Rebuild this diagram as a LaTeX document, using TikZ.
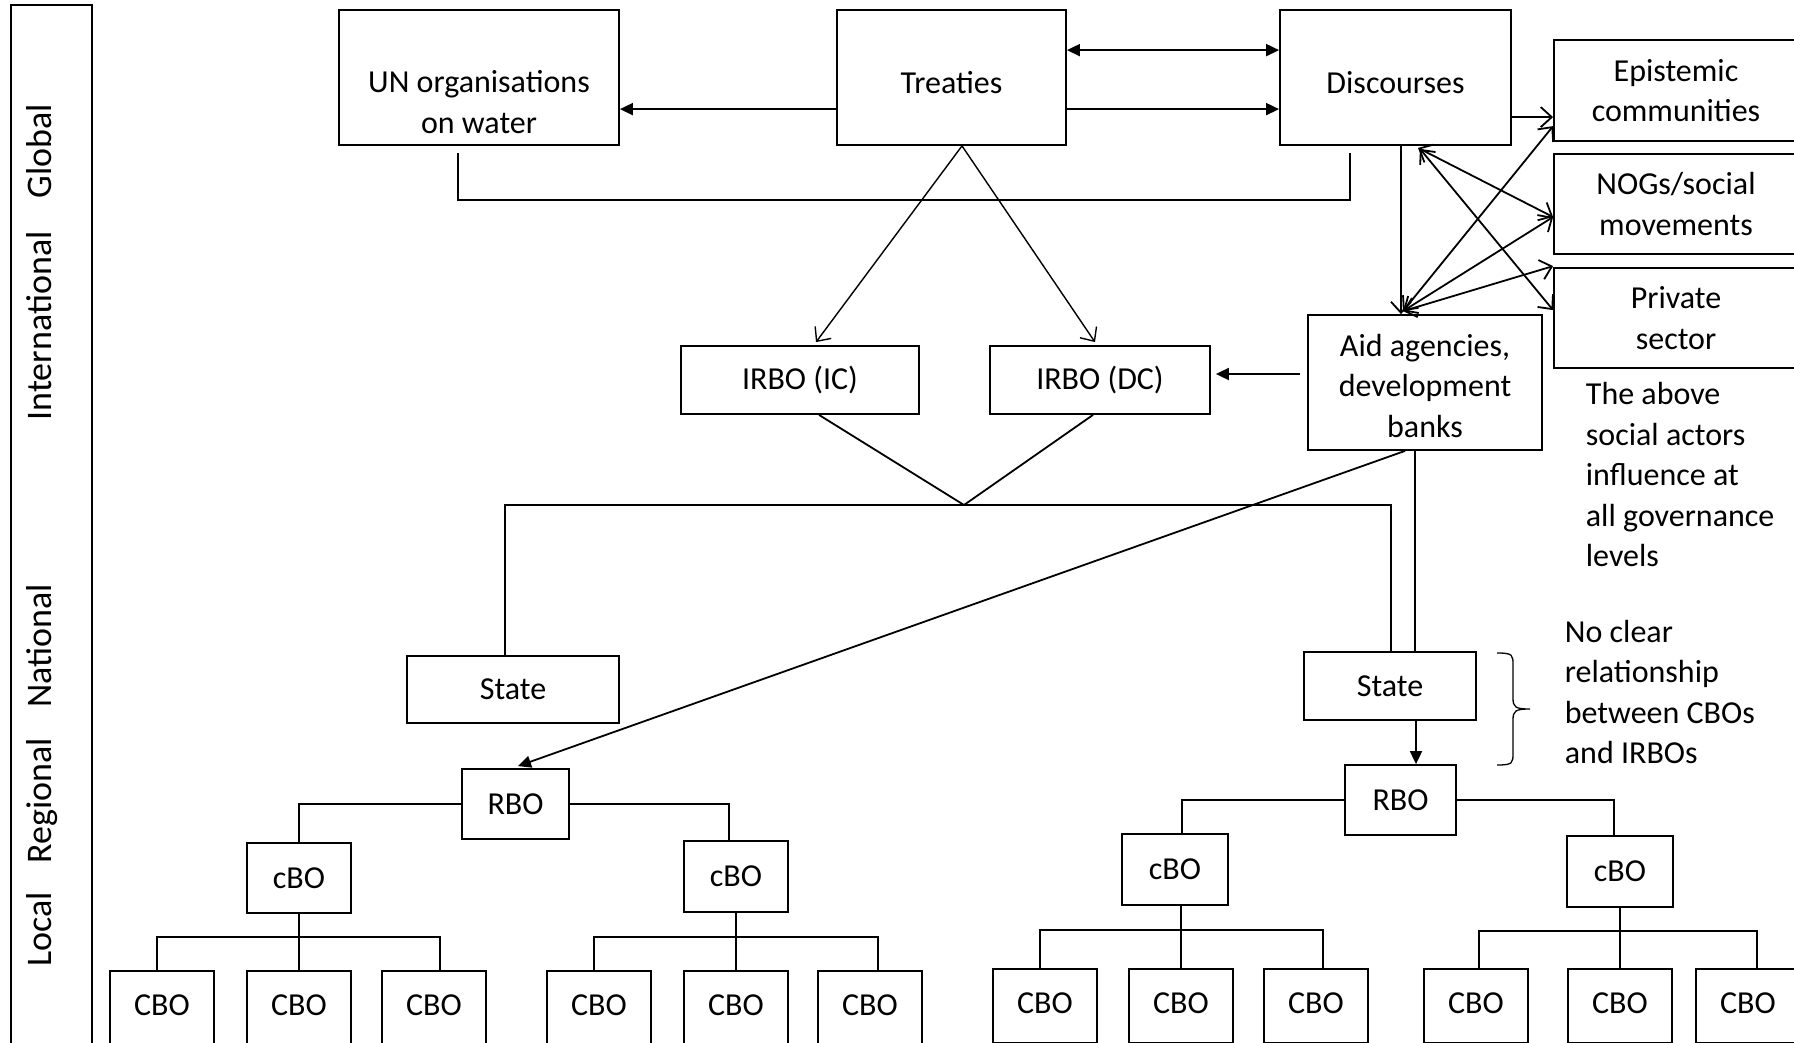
\documentclass[tikz,border=0pt]{standalone}
\usepackage{fontspec}
\setmainfont{Carlito}
\usetikzlibrary{arrows.meta,calc}
\begin{document}
\begin{tikzpicture}[x=1pt,y=-1pt,
  line width=1.8pt,
  every node/.style={font=\fontsize{32}{40.5}\selectfont, align=center},
  bx/.style n args={2}{draw, line width=1.8pt, minimum width=#1pt, minimum height=#2pt, inner sep=0pt, align=center},
  low/.style={text height=31pt, text depth=0pt},
  up/.style={text height=21pt, text depth=6pt},
  fa/.style={-{Triangle[length=13pt,width=12pt]}},
  fab/.style={{Triangle[length=13pt,width=12pt]}-{Triangle[length=13pt,width=12pt]}},
  oa/.style={-{Straight Barb[length=11pt,width=20pt]}},
  oab/.style={{Straight Barb[length=11pt,width=20pt]}-{Straight Barb[length=11pt,width=20pt]}},
  side/.style={rotate=90, anchor=base, font=\fontsize{36}{40}\selectfont, inner sep=0pt},
  note/.style={align=left, anchor=west, inner sep=0pt},
  thin/.style={line width=1.4pt}
]
\useasboundingbox (0,0) rectangle (1794,1042);
\clip (0,0) rectangle (1794,1042);

% side strip
\draw (11,5) rectangle (92,1060);
\node[side] (lglobal) at (51,151.5) {Global};
\node[side] (linter) at (51,326) {International};
\node[side] (lnat) at (51,646) {National};
\node[side] (lreg) at (51,801) {Regional};
\node[side] (lloc) at (51,929.5) {Local};

% top row
\node[bx={280}{135}] (un) at (479,77.5) {};
\node (untext) at (479,102) {UN organisations\\on water};
\node[bx={229}{135},low] (treaties) at (951.5,77.5) {Treaties};
\node[bx={231}{135},low] (disc) at (1395.5,77.5) {Discourses};
\node[bx={244}{101}] (epi) at (1676,90.5) {Epistemic\\communities};
\node[bx={244}{100}] (nog) at (1676,204) {NOGs/social\\movements};
\node[bx={244}{100}] (priv) at (1676,318) {Private\\sector};
\node[bx={234}{135}] (aid) at (1425,382.5) {};
\node (aidtext) at (1425,386) {Aid agencies,\\development\\banks};
\node[bx={238}{68}] (irboic) at (800,380) {IRBO (IC)};
\node[bx={220}{68}] (irbodc) at (1100,380) {IRBO (DC)};
\node[bx={212}{67}] (stateL) at (513,689.5) {State};
\node[bx={172}{68}] (stateR) at (1390,686) {State};
\node[bx={107}{70}] (rboL) at (515.5,804) {RBO};
\node[bx={111}{70}] (rboR) at (1400.5,800) {RBO};

\node[bx={104}{70}] (cboL1) at (299,878) {cBO};
\node[bx={104}{71}] (cboL2) at (736,876.5) {cBO};
\node[bx={106}{71}] (cboR1) at (1175,869.5) {cBO};
\node[bx={106}{71}] (cboR2) at (1620,871.5) {cBO};

\node[bx={104}{74},up] (c11) at (162,1008) {CBO};
\node[bx={104}{74},up] (c12) at (299,1008) {CBO};
\node[bx={104}{74},up] (c13) at (434,1008) {CBO};
\node[bx={104}{74},up] (c21) at (599,1008) {CBO};
\node[bx={104}{74},up] (c22) at (736,1008) {CBO};
\node[bx={104}{74},up] (c23) at (870,1008) {CBO};
\node[bx={104}{74},up] (c31) at (1045,1006) {CBO};
\node[bx={104}{74},up] (c32) at (1181,1006) {CBO};
\node[bx={104}{74},up] (c33) at (1316,1006) {CBO};
\node[bx={104}{74},up] (c41) at (1476,1006) {CBO};
\node[bx={104}{74},up] (c42) at (1620,1006) {CBO};
\node[bx={104}{74},up] (c43) at (1748,1006) {CBO};

\node[note] (note1) at (1585,474.5) {The above\\social actors\\influence at\\all governance\\levels};
\node[note] (note2) at (1564,692) {No clear\\relationship\\between CBOs\\and IRBOs};

% connectors top
\draw[fab] ($(treaties.north east)+(0,41)$) -- ($(disc.north west)+(0,41)$);
\draw[fa] ($(treaties.north east)+(0,100)$) -- ($(disc.north west)+(0,100)$);
\draw[fa] ($(treaties.north west)+(0,100)$) -- ($(un.north east)+(0,100)$);
\draw[thin] ($(un.south)+(-21,7)$) |- ($(disc.south)+(-45.5,54)$) -- ($(disc.south)+(-45.5,7)$);
\draw[oa,thin] ($(treaties.south)+(10.5,0)$) -- ($(irboic.north)+(16,-3)$);
\draw[oa,thin] ($(treaties.south)+(10.5,0)$) -- ($(irbodc.north)+(-5,-3)$);

\draw[oa] ($(disc.north east)+(0,108)$) -- ($(epi.north west)+(0,78)$);
\draw[oa] ($(disc.south)+(5.5,0)$) -- ($(aid.north)+(-24,0)$);
\coordinate (aidtop) at ($(aid.north)+(-22,-3)$);
\draw[oab] (aidtop) -- ($(epi.north west)+(0,87)$);
\draw[oab] (aidtop) -- ($(nog.west)+(0,13)$);
\draw[oab] (aidtop) -- ($(priv.north west)+(0,-1)$);
\draw[oab] ($(disc.south)+(22.5,2)$) -- ($(nog.west)+(0,13)$);
\draw[oab] ($(disc.south)+(24.5,3)$) -- ($(priv.north west)+(0,43)$);

\draw[fa] ($(aid.west)+(-7,-8.5)$) -- ($(irbodc.east)+(5,-6)$);
\coordinate (apex) at (964,505);
\draw ($(irboic.south)+(19,0)$) -- (apex) -- ($(irbodc.south)+(-7,0)$);
\draw ($(stateL.north)+(-8,0)$) |- (apex) -| ($(stateR.north)+(1,0)$);
\draw ($(aid.south)+(-10,0)$) -- ($(stateR.north)+(25,0)$);
\draw[fa] ($(aid.south)+(-20,0)$) -- ($(rboL.north)+(2.5,-2)$);
\draw[fa] ($(stateR.south)+(26,0)$) -- ($(rboR.north)+(15.5,0)$);

% brace
\draw[line width=1.3pt] (1497,653) .. controls (1513,653) and (1513,655) .. (1513,665) -- (1513,698) .. controls (1513,707) and (1515,709) .. (1530,709) .. controls (1515,709) and (1513,711) .. (1513,720) -- (1513,753) .. controls (1513,763) and (1513,765) .. (1497,765);

% trees
\draw (rboL.west) -| (cboL1.north);
\draw (rboL.east) -| ($(cboL2.north)+(-7,0)$);
\draw (rboR.west) -| ($(cboR1.north)+(7,0)$);
\draw (rboR.east) -| ($(cboR2.north)+(-6,0)$);

\draw (cboL1.south) -- (c12.north);
\draw ($(c11.north)+(-5,0)$) |- ($(cboL1.south)+(0,23)$) -| ($(c13.north)+(6,0)$);
\draw (cboL2.south) -- (c22.north);
\draw ($(c21.north)+(-5,0)$) |- ($(cboL2.south)+(0,24)$) -| ($(c23.north)+(8,0)$);
\draw (c32.north) -- (c32.north |- cboR1.south);
\draw ($(c31.north)+(-5,0)$) |- ($(c32.north)+(0,-38)$) -| ($(c33.north)+(7,0)$);
\draw (cboR2.south) -- (c42.north);
\draw ($(c41.north)+(3,0)$) |- ($(cboR2.south)+(0,23)$) -| ($(c43.north)+(9,0)$);
\end{tikzpicture}
\end{document}
